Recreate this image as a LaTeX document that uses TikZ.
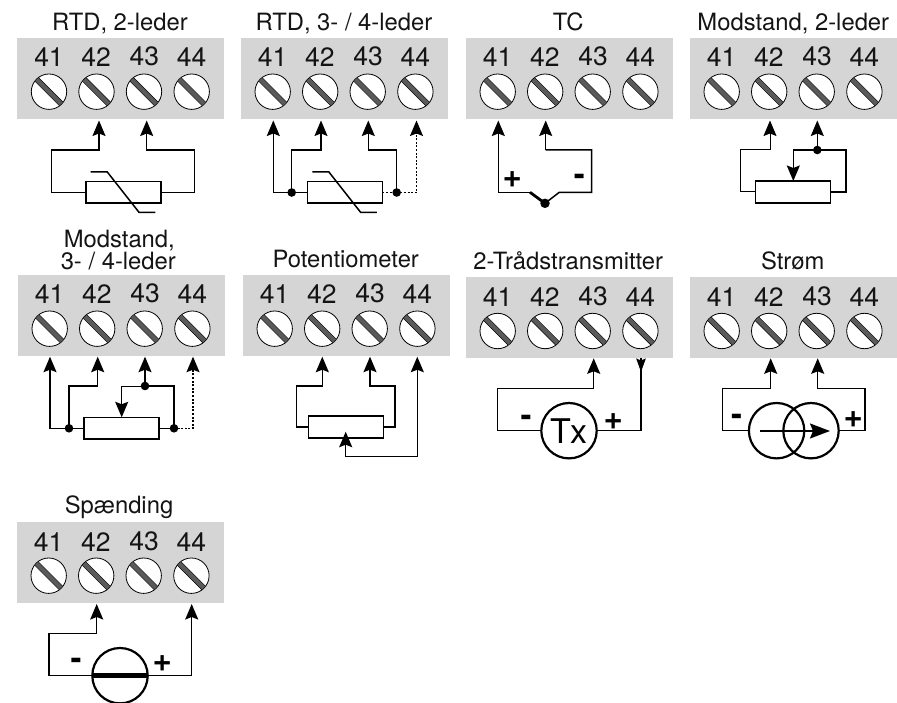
\documentclass[tikz,border=0pt]{standalone}
\usepackage{fontspec}
\setmainfont{TeX Gyre Heros}
\usetikzlibrary{arrows.meta,calc}
\definecolor{panelgray}{HTML}{D5D5D5}
\definecolor{slotgray}{HTML}{5A5A5A}
\tikzset{
  x=1pt,y=-1pt,
  panelbox/.style={rectangle,fill=panelgray,draw=none,minimum width=207,minimum height=81,anchor=north west,inner sep=0,outer sep=0},
  num/.style={anchor=base,inner sep=0,font=\fontsize{26.5}{26.5}\selectfont,text=black!92},
  ttl/.style={anchor=base,inner sep=0,font=\fontsize{23.8}{24}\selectfont,text=black!92},
  screw/.style={circle,fill=white,draw=black,line width=0.8,minimum size=35.4,inner sep=0,outer sep=0},
  wire/.style={line width=1.5,draw=black},
  thin wire/.style={line width=1,draw=black},
  dotwire/.style={line width=1.6,draw=black,dash pattern=on 2 off 1.6},
  arrowed/.style={-{Stealth[length=15.5,width=13,inset=2.5]}},
  res/.style={rectangle,draw=black,fill=white,line width=1.6,minimum width=75,minimum height=21.6,inner sep=0,outer sep=0},
  jdot/.style={circle,fill=black,draw=none,minimum size=8.6,inner sep=0,outer sep=0},
  src/.style={circle,draw=black,line width=2.2,minimum size=55.4,inner sep=0,outer sep=0},
  sign/.style={inner sep=0,font=\fontsize{33}{33}\bfseries\selectfont},
}
\newcommand{\termpanel}[3]{%
  \node[panelbox] (#1) at (#2,#3) {};
  \node[num] (#1n1) at (#2+31.7,#3+29) {41};
  \node[num] (#1n2) at (#2+78.9,#3+29) {42};
  \node[num] (#1n3) at (#2+127,#3+28) {43};
  \node[num] (#1n4) at (#2+174.3,#3+29) {44};
  \foreach \i/\dx in {1/31.7,2/79.2,3/126.7,4/174.4}{
    \node[screw] (#1s\i) at (#2+\dx,#3+53.7) {};
    \draw[line width=5.6,black] (#1s\i)+(-12.2,-12.2) -- +(12.2,12.2);
    \draw[line width=4.4,slotgray] (#1s\i)+(-12.2,-12.2) -- +(12.2,12.2);
  }
}
\newcommand{\thermslash}[1]{%
  \draw[wire] (#1.center)+(-32.5,-20.5) -- +(-15.9,-20.5) -- +(15.8,19.8) -- +(32.1,19.8);
}
\begin{document}
\begin{tikzpicture}
\useasboundingbox (0,0) rectangle (897,703);
\fill[white] (0,0) rectangle (897,703);

% Panels and titles
\termpanel{pa}{17.3}{38}
\termpanel{pb}{241}{38}
\termpanel{pc}{466}{38}
\termpanel{pd}{690}{38}
\termpanel{pe}{18}{275}
\termpanel{pf}{243}{275}
\termpanel{pg}{466}{277.3}
\termpanel{ph}{690}{277.3}
\termpanel{pi}{17}{522}
\node[ttl] (ta) at (120,30.7) {RTD, 2-leder};
\node[ttl] (tb) at (344,30.7) {RTD, 3- / 4-leder};
\node[ttl] (tc) at (568.3,30.7) {TC};
\node[ttl] (td) at (793.3,30.7) {Modstand, 2-leder};
\node[ttl] (te1) at (119.3,247.7) {Modstand,};
\node[ttl] (te2) at (118.3,270) {3- / 4-leder};
\node[ttl] (tf) at (345.7,267.7) {Potentiometer};
\node[ttl] (tg) at (568.3,269.3) {2-Trådstransmitter};
\node[ttl] (th) at (792.7,269.3) {Strøm};
\node[ttl] (ti) at (119,513.3) {Spænding};

% RTD 2-leder
\coordinate (a2) at (99,120.5);
\coordinate (a3) at (146.7,120.5);
\node[res] (ra) at (123.2,192.5) {};
\thermslash{ra}
\draw[wire,arrowed] (ra.west) -| (51.7,150) -| (a2);
\draw[wire,arrowed] (ra.east) -| (194.3,150) -| (a3);

% RTD 3-/4-leder
\coordinate (b1) at (273.3,120.5);
\coordinate (b2) at (321,120.5);
\coordinate (b3) at (368.3,120.5);
\coordinate (b4) at (416.5,120.5);
\node[res] (rb) at (344.8,192.5) {};
\thermslash{rb}
\node[jdot] (bl) at (291.7,192.5) {};
\node[jdot] (br) at (396.7,192.5) {};
\draw[wire,arrowed] (rb.west) -| (b1);
\draw[wire,arrowed] (bl.center) |- (b2 |- 0,150) -- (b2);
\draw[wire,arrowed] (br.center) |- (b3 |- 0,150) -- (b3);
\draw[dotwire] (rb.east) -- (br.center) -- (b4 |- br.center) -- (b4 |- 0,134);
\draw[wire,arrowed] (b4 |- 0,134) -- (b4);

% TC
\coordinate (c1) at (498.3,120.5);
\coordinate (c2) at (545.7,120.5);
\node[jdot,minimum size=9.5] (cj) at (545,203.3) {};
\draw[wire,arrowed] (530,192.3) -- (c1 |- 0,192.3) -- (c1);
\draw[line width=2.8] (530,192.3) -- (cj.center);
\draw[wire] (cj.center) -- (559.3,192.3) -- (591.7,192.3) -- (591.7,150) -- (c2 |- 0,150);
\draw[wire,arrowed] (c2 |- 0,150) -- (c2);
\node[sign] (cplus) at (512.3,180) {+};
\node[sign] (cminus) at (579.3,180) {-};

% Modstand 2-leder
\coordinate (d2) at (770,120.5);
\coordinate (d3) at (817.3,120.5);
\node[res] (rd) at (792.8,192) {};
\node[jdot] (dj) at (817.3,150) {};
\draw[thin wire,arrowed] (rd.west) -| (740.7,150) -| (d2);
\draw[wire,arrowed] (rd.east) -| (846,150) -- (793.3,150) -- (793.3,181);
\draw[wire,arrowed] (dj.center) -- (d3);

% Modstand 3-/4-leder
\coordinate (e1) at (50,356.7);
\coordinate (e2) at (97.7,356.7);
\coordinate (e3) at (145,356.7);
\coordinate (e4) at (193,356.7);
\node[res] (re) at (121.5,428.3) {};
\node[jdot] (el) at (69,428.3) {};
\node[jdot] (er) at (174,428.3) {};
\node[jdot] (et) at (145,386) {};
\draw[wire,arrowed] (re.west) -| (e1);
\draw[wire,arrowed] (el.center) |- (e2 |- 0,386) -- (e2);
\draw[wire] (re.east) -- (er.center) |- (et.center);
\draw[thin wire,arrowed] (et.center) -| (121.7,417.3);
\draw[wire,arrowed] (et.center) -- (e3);
\draw[dotwire] (er.center) -- (e4 |- er.center) -- (e4 |- 0,370);
\draw[wire,arrowed] (e4 |- 0,370) -- (e4);

% Potentiometer
\coordinate (f2) at (322.3,356.7);
\coordinate (f3) at (370,356.7);
\coordinate (f4) at (417.3,356.7);
\node[res] (rf) at (345.8,426.9) {};
\draw[wire,arrowed] (rf.west) -| (296.7,386) -| (f2);
\draw[wire,arrowed] (rf.east) -| (395,386) -| (f3);
\draw[wire,arrowed] (345.7,456.7) -| (f4);
\draw[wire,arrowed] (345.7,456.7) -- (345.7,431.7);

% 2-Traadstransmitter
\coordinate (g3) at (593.7,358.3);
\coordinate (g4t) at (641,358.3);
\coordinate (g4) at (641,372);
\node[src,font=\fontsize{34}{34}\selectfont] (tx) at (569,430.7) {Tx};
\draw[wire,arrowed] (tx.west) -| (497.7,388.3) -| (g3);
\draw[wire] (tx.east) -| (g4t);
\draw[wire,-{Stealth[length=13.5,width=9.5,inset=2]}] (g4t) -- (g4);
\node[sign] (gminus) at (526,421) {-};
\node[sign] (gplus) at (613.3,421.7) {+};

% Stroem
\coordinate (h2) at (770.7,358.3);
\coordinate (h3) at (817.7,358.3);
\node[src] (ca) at (776.6,430.7) {};
\node[src] (cb) at (811,430.7) {};
\draw[wire,arrowed] (ca.west) -| (722.3,388.3) -| (h2);
\draw[wire,arrowed] (cb.east) -| (865,388.3) -| (h3);
\coordinate (hs) at (760,431);
\coordinate (he) at (830,431);
\draw[wire,-{Stealth[length=20,width=15,inset=3]}] (hs) -- (he);
\node[sign] (hminus) at (736.7,420) {-};
\node[sign] (hplus) at (853.3,420) {+};

% Spaending
\coordinate (i2) at (96.7,604);
\coordinate (i4) at (191.7,604);
\node[src] (vs) at (120,675.7) {};
\draw[line width=5.5] (vs.west) -- (vs.east);
\draw[wire,arrowed] (vs.west) -| (49,633.3) -| (i2);
\draw[wire,arrowed] (vs.east) -| (i4);
\node[sign] (iminus) at (76,664) {-};
\node[sign] (iplus) at (162.3,664) {+};
\end{tikzpicture}
\end{document}
